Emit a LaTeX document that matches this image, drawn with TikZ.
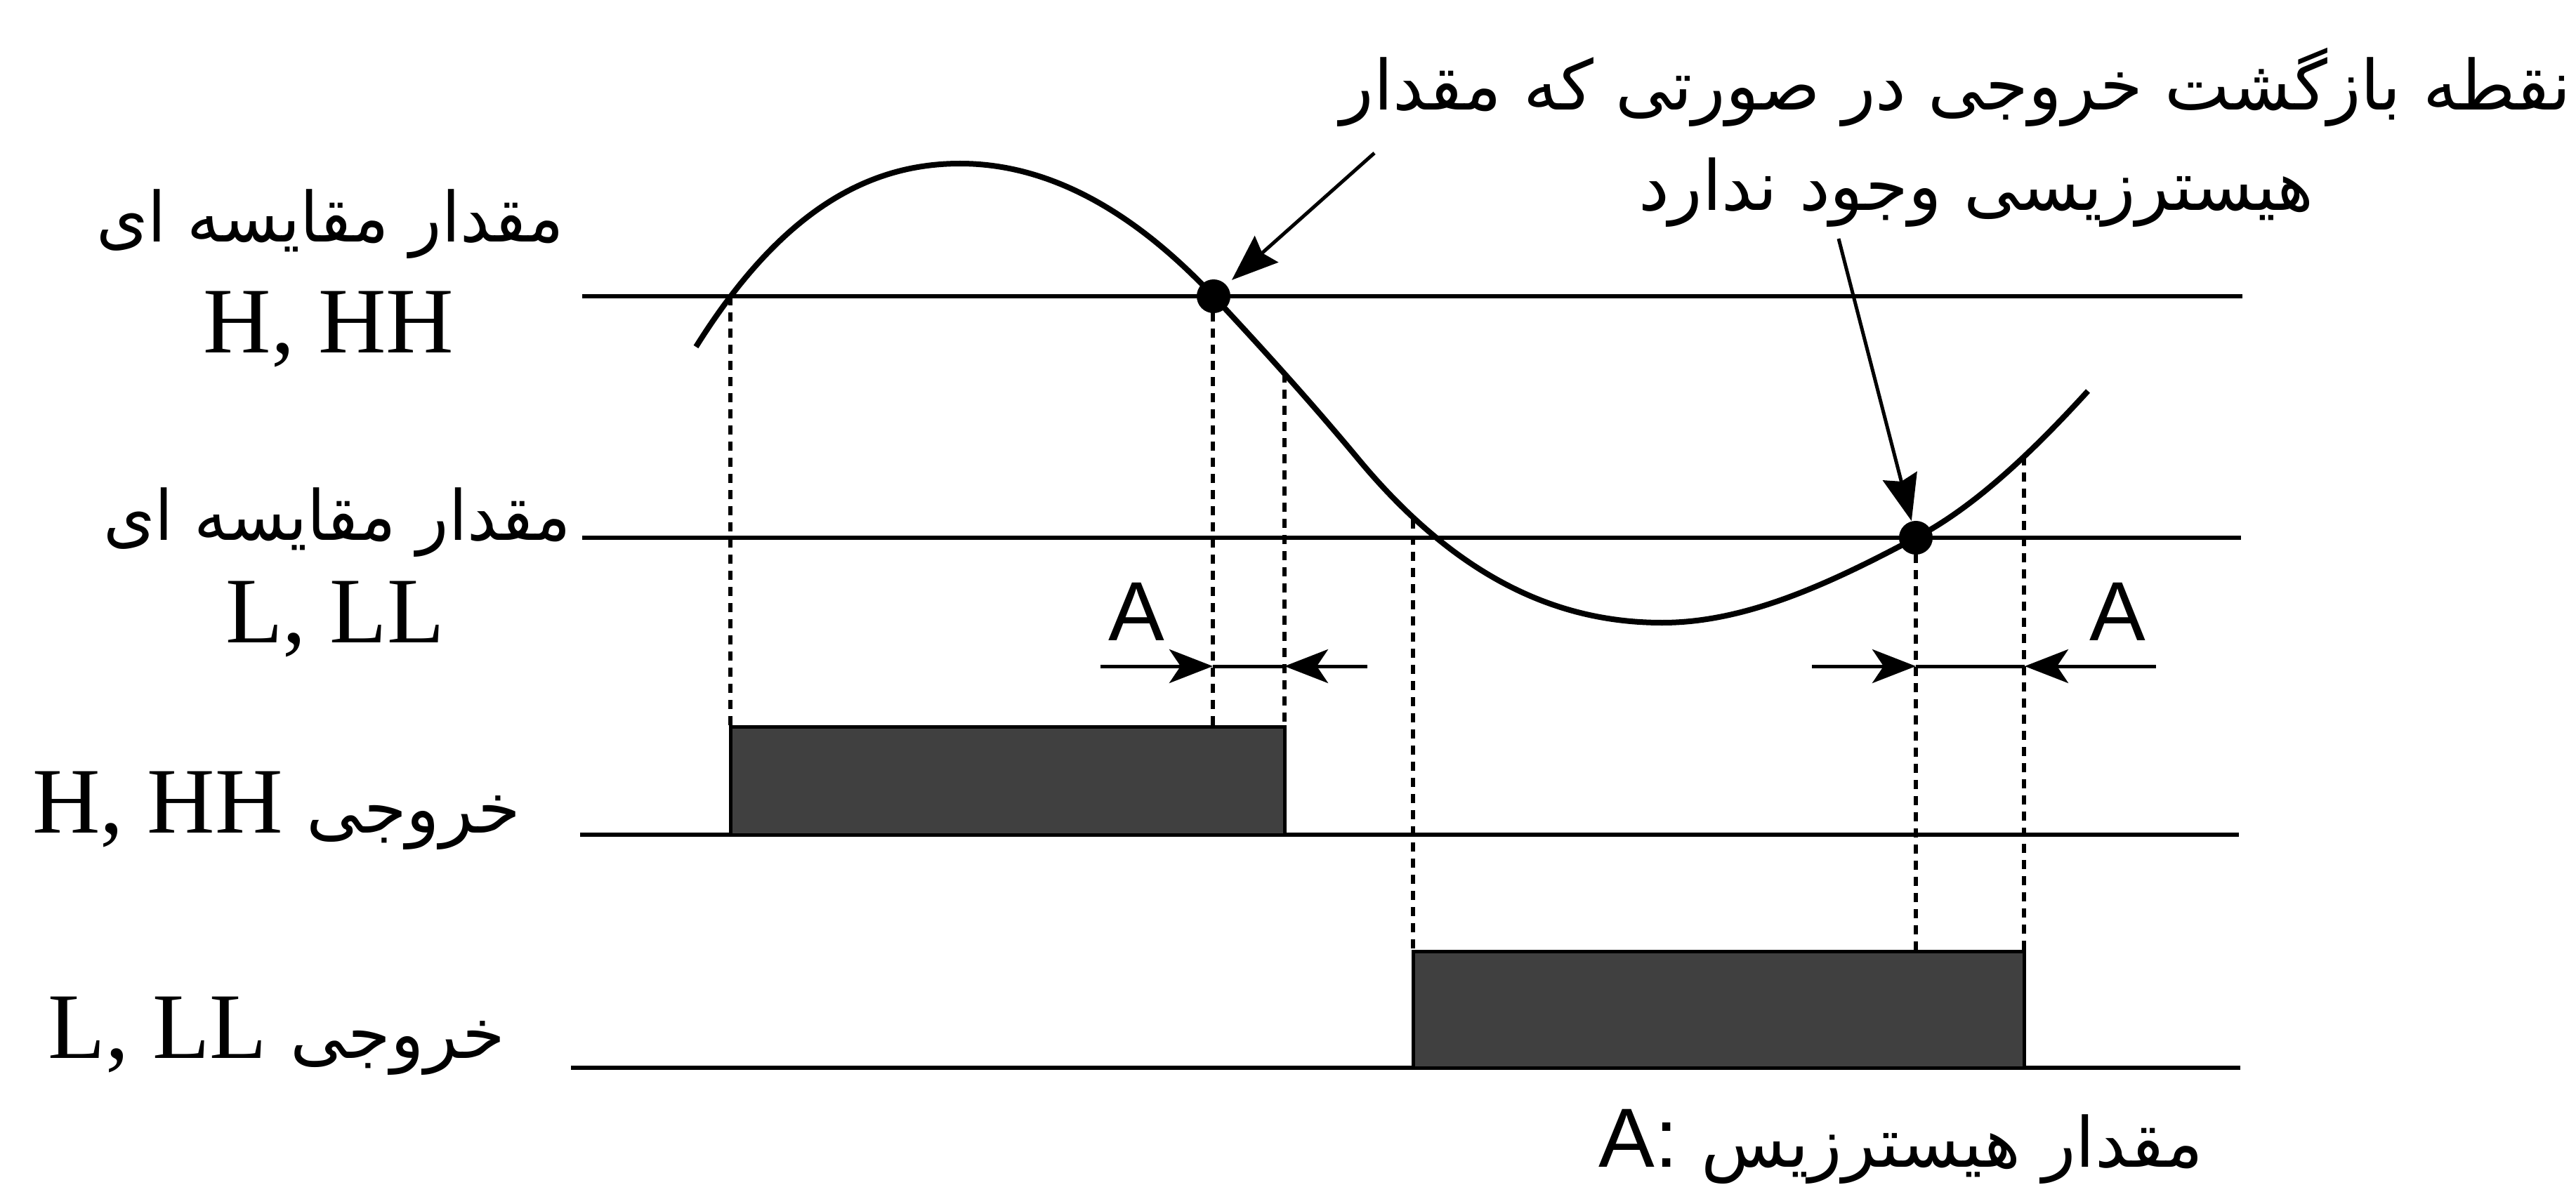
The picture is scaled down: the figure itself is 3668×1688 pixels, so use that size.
\documentclass[tikz,border=0pt]{standalone}
\usepackage{fontspec}
\setmainfont{Liberation Serif}
\newfontfamily\arabicfont[Script=Arabic]{DejaVu Sans}
\newfontfamily\lsans{Liberation Sans}
\TeXXeTstate=1
\usetikzlibrary{arrows.meta}
\tikzset{
  level/.style={line width=0.06cm},
  wave/.style={line width=0.08cm, line join=round},
  guide/.style={line width=0.055cm, dash pattern=on 0.13cm off 0.1cm},
  outbox/.style={fill=black!75, draw=black, line width=0.05cm},
  dotmark/.style={fill=black, circle, inner sep=0pt, minimum size=0.48cm},
  dimline/.style={line width=0.05cm},
  dimarrow/.style={line width=0.05cm, -{Stealth[length=0.62cm,width=0.48cm,inset=0.16cm]}},
  callout/.style={line width=0.05cm, -{Stealth[length=0.66cm,width=0.5cm,inset=0.08cm]}},
  fa/.style={font=\arabicfont\fontsize{28}{34}\selectfont, inner sep=0pt, anchor=base},
  lat/.style={font=\fontsize{38}{46}\selectfont, inner sep=0pt, anchor=base},
  alab/.style={font=\lsans\fontsize{34}{40}\selectfont, inner sep=0pt, anchor=base},
}
\newcommand{\fatext}[1]{{\arabicfont\fontsize{28}{34}\selectfont\beginR #1\endR}}
\begin{document}
\begin{tikzpicture}[x=0.01cm,y=-0.01cm]
\useasboundingbox (0,0) rectangle (3668,1688);

% level lines
\coordinate (hA) at (829,422);  \coordinate (hB) at (3193,422);
\coordinate (lA) at (829,766);  \coordinate (lB) at (3191,766);
\coordinate (oHA) at (826,1189); \coordinate (oHB) at (3188,1189);
\coordinate (oLA) at (813,1521); \coordinate (oLB) at (3190,1521);
\draw[level] (hA) -- (hB);
\draw[level] (lA) -- (lB);
\draw[level] (oHA) -- (oHB);
\draw[level] (oLA) -- (oLB);

% dashed guides
\coordinate (g1t) at (1040,422);  \coordinate (g1b) at (1040,1035);
\coordinate (g2t) at (1727,422);  \coordinate (g2b) at (1727,1035);
\coordinate (g3t) at (1829,532);  \coordinate (g3b) at (1829,1035);
\coordinate (g4t) at (2012,740);  \coordinate (g4b) at (2012,1355);
\coordinate (g5t) at (2728,766);  \coordinate (g5b) at (2728,1355);
\coordinate (g6t) at (2882,650);  \coordinate (g6b) at (2882,1355);
\draw[guide] (g1t) -- (g1b);
\draw[guide] (g2t) -- (g2b);
\draw[guide] (g3t) -- (g3b);
\draw[guide] (g4t) -- (g4b);
\draw[guide] (g5t) -- (g5b);
\draw[guide] (g6t) -- (g6b);

% output boxes
\draw[outbox] (1040,1189) rectangle (1829,1035);
\draw[outbox] (2012,1521) rectangle (2882,1355);

% wave
\draw[wave] (991,494) .. controls (1116,294) and (1242,233) .. (1367,233)
  .. controls (1487,233) and (1608,294) .. (1728,422)
  .. controls (1797,496) and (1866,572) .. (1935,655)
  .. controls (2079,828) and (2223,887) .. (2367,887)
  .. controls (2487,887) and (2608,830) .. (2728,766)
  .. controls (2810,723) and (2891,647) .. (2973,557);

% dots
\node[dotmark] (d1) at (1728,422) {};
\node[dotmark] (d2) at (2728,766) {};

% hysteresis dimension arrows
\coordinate (a1s) at (1567,949); \coordinate (a1p) at (1727,949);
\coordinate (a1q) at (1829,949); \coordinate (a1e) at (1947,949);
\draw[dimarrow] (a1s) -- (a1p);
\draw[dimline] (a1p) -- (a1q);
\draw[dimarrow] (a1e) -- (a1q);
\coordinate (a2s) at (2580,949); \coordinate (a2p) at (2728,949);
\coordinate (a2q) at (2883,949); \coordinate (a2e) at (3070,949);
\draw[dimarrow] (a2s) -- (a2p);
\draw[dimline] (a2p) -- (a2q);
\draw[dimarrow] (a2e) -- (a2q);
\node[alab] (A1) at (1618,912) {A};
\node[alab] (A2) at (3015,912) {A};

% callouts
\node[fa, anchor=base east] (t1) at (3662,157) {\beginR نقطه بازگشت خروجی در صورتی که مقدار\endR};
\node[fa] (t2) at (2814,300) {\beginR هیسترزیسی وجود ندارد\endR};
\coordinate (c1s) at (1957,218);
\coordinate (c2s) at (2618,340);
\draw[callout, shorten >=0.1cm] (c1s) -- (d1);
\draw[callout] (c2s) -- (d2);

% left labels
\node[fa] (cmpH) at (470,345) {\scalebox{0.955}[1]{\beginR مقدار مقایسه ای\endR}};
\node[lat] (latH) at (468,502) {H, HH};
\node[fa] (cmpL) at (480,769) {\scalebox{0.955}[1]{\beginR مقدار مقایسه ای\endR}};
\node[lat] (latL) at (477,915) {L, LL};
\node[lat] (outH) at (394,1186) {H, HH \fatext{خروجی}};
\node[lat] (outL) at (394,1507) {L, LL \fatext{خروجی}};

% legend
\node[alab, anchor=base west] (legend) at (2276,1662) {A: \fatext{مقدار هیسترزیس}};
\end{tikzpicture}
\end{document}
